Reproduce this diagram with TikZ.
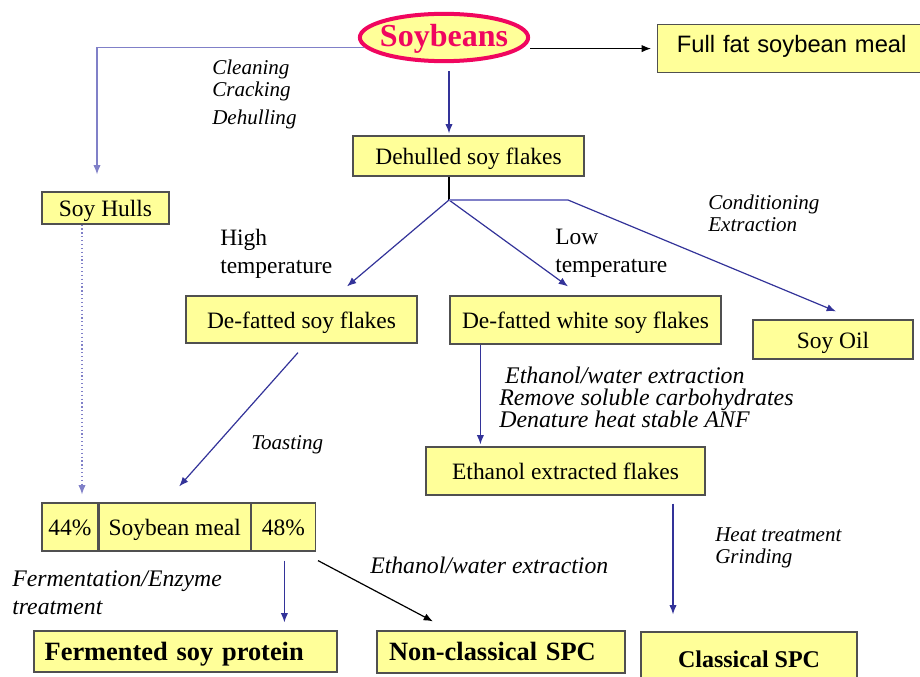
\documentclass[tikz,border=0pt]{standalone}
\usepackage{fontspec}
\setmainfont{Liberation Serif}
\newfontfamily\arialfont{Liberation Sans}
\usetikzlibrary{arrows.meta,shapes.geometric,calc,positioning}
\definecolor{boxfill}{HTML}{FFFF99}
\definecolor{boxline}{HTML}{505050}
\definecolor{flowblue}{HTML}{333399}
\definecolor{paleblue}{HTML}{8080C8}
\definecolor{soyred}{HTML}{F0065F}
\begin{document}
\begin{tikzpicture}[x=0.75pt,y=-0.75pt,
	box/.style={draw=boxline,fill=boxfill,line width=0.9pt,inner sep=0pt,text height=12.9pt,text depth=0pt,font=\fontsize{17.6}{20}\selectfont},
	boldbox/.style={box,align=left,inner xsep=8pt,font=\fontsize{19.8}{22}\selectfont\bfseries},
	note/.style={anchor=north west,align=left,inner sep=0pt,font=\fontsize{15.8}{16.5}\selectfont\itshape},
	plain/.style={anchor=north west,align=left,inner sep=0pt,font=\fontsize{17.6}{21}\selectfont},
	blu/.style={draw=flowblue,line width=0.9pt,-{Latex[length=7pt,width=5.5pt]}},
	blk/.style={draw=black,line width=0.9pt,-{Latex[length=7pt,width=5.5pt]}}]
	\useasboundingbox (0,0) rectangle (920,677);
	% boxes
	\node[ellipse,draw=soyred,line width=3pt,fill=boxfill,inner xsep=-3.4pt,inner ysep=0pt,minimum height=35.5pt,
		text height=14pt,text depth=0pt,text=soyred,font=\fontsize{24}{26}\selectfont\bfseries] (soy) at (444,37.5) {Soybeans};
	\node[box,font=\fontsize{17.8}{20}\selectfont\arialfont,minimum height=36pt,text height=9pt,text depth=3pt,
		anchor=north west,align=left,text width=185pt,inner xsep=14.5pt] (ff) at (657,24) {Full fat soybean meal};
	\node[box,minimum width=173.25pt,minimum height=30pt] (dsf) at (468.5,156) {Dehulled soy flakes};
	\node[box,minimum width=95.25pt,minimum height=24pt] (hulls) at (105.5,208) {Soy Hulls};
	\node[box,minimum width=173.25pt,minimum height=35.25pt] (dfat) at (301.5,319.5) {De-fatted soy flakes};
	\node[box,minimum width=203.25pt,minimum height=36pt] (white) at (585.5,320) {De-fatted white soy flakes};
	\node[box,minimum width=120pt,minimum height=29.25pt] (oil) at (833,339.5) {Soy Oil};
	\node[box,minimum width=209.25pt,minimum height=36pt] (eflakes) at (565.5,471) {Ethanol extracted flakes};
	\node[box,minimum width=42pt,minimum height=36pt] (m44) at (70,527) {44\%};
	\node[box,minimum width=113.25pt,minimum height=36pt,right=0pt of m44] (mmeal) {Soybean meal};
	\node[box,minimum width=48pt,minimum height=36pt,right=0pt of mmeal] (m48) {48\%};
	\node[boldbox,text width=211.25pt,minimum height=30.75pt] (ferm) at (185.5,651.5) {Fermented soy protein};
	\node[boldbox,inner xsep=9pt,text width=168pt,minimum height=31.5pt] (nonc) at (501,652) {Non-classical SPC};
	\node[box,font=\fontsize{18}{20}\selectfont\bfseries,minimum width=162pt,minimum height=39.75pt] (clas) at (749,658.5) {Classical SPC};
	% labels
	\node[note] (clean) at (212,60) {Cleaning\\Cracking\\[4pt]Dehulling};
	\node[plain] (hight) at (220,229) {High\\temperature};
	\node[plain] (lowt) at (555,229) {Low\\temperature};
	\node[note] (condit) at (708,195) {Conditioning\\Extraction};
	\node[note,font=\fontsize{17.9}{16.5}\selectfont\itshape] (ethx) at (499,367) {~Ethanol/water extraction\\Remove soluble carbohydrates\\Denature heat stable ANF};
	\node[note] (toast) at (251,435) {Toasting};
	\node[note] (heat) at (715,527) {Heat treatment\\Grinding};
	\node[note,font=\fontsize{17.8}{21}\selectfont\itshape] (fermx) at (12,571) {Fermentation/Enzyme\\treatment};
	\node[note,font=\fontsize{17.8}{18}\selectfont\itshape] (ethx2) at (370,557) {Ethanol/water extraction};
	% connectors
	\coordinate (split) at (449,200);
	\coordinate (bend) at (568,200);
	\draw[blu,draw=paleblue] (soy.187) -| ($(hulls.north)+(-8.5,-17)$);
	\draw[blk] (soy.east |- ff) -- ($(ff.west)+(-6,0)$);
	\draw[blu] ([yshift=-6pt]soy.south -| split) -- ($(dsf.north -| split)+(0,-2)$);
	\draw[line width=0.9pt] (dsf.south -| split) -- (split);
	\draw[blu] (split) -- ($(dfat.north)+(45.5,-9)$);
	\draw[blu] (split) -- ($(white.north)+(-17.5,-9)$);
	\draw[draw=paleblue,line width=0.9pt] (split) -- (bend);
	\draw[blu] (bend) -- ($(oil.north)+(3,-8)$);
	\draw[blu,draw=paleblue,dotted] ($(hulls.south)+(-23.5,0)$) -- ($(m44.north)+(12,-8)$);
	\draw[blu] ($(dfat.south)+(-3.5,9)$) -- ($(mmeal.north)+(4.5,-16)$);
	\draw[blu] ($(white.south west)+(31,0)$) -- ($(eflakes.north west)+(55,-2)$);
	\draw[blu] ($(eflakes.south)+(107.5,8)$) -- ($(clas.north)+(-76,-17)$);
	\draw[blu] ($(m48.south)+(1,9)$) -- ($(ferm.north -| m48)+(1,-8)$);
	\draw[blk] ($(m48.south east)+(2,9)$) -- ($(nonc.north)+(-68,-9)$);
\end{tikzpicture}
\end{document}
